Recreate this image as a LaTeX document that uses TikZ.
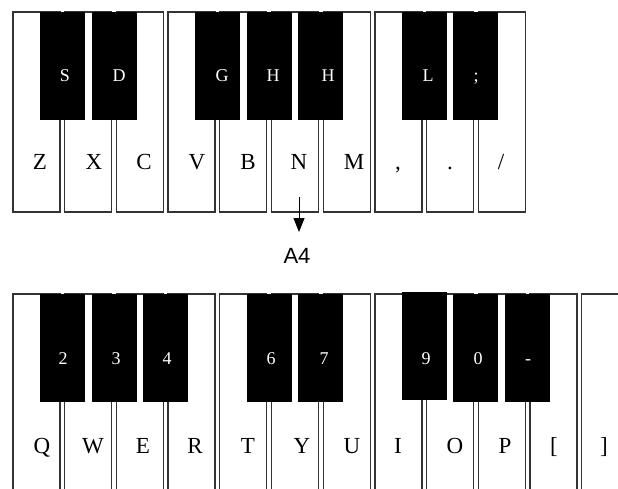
\documentclass[tikz,border=0pt]{standalone}
\usepackage{fontspec}
\setmainfont{Liberation Serif}
\newfontfamily\arialfont{Liberation Sans}
\usetikzlibrary{arrows.meta}
\definecolor{keyline}{HTML}{333333}
\begin{document}
\begin{tikzpicture}[x=1pt,y=-1pt,
  whitekey/.style={draw=keyline, line width=1.3pt, fill=white, minimum width=47pt,
    minimum height=#1, anchor=north west, inner sep=0pt, outer sep=0pt},
  blackkey/.style={fill=black, minimum width=45pt, minimum height=108pt,
    anchor=north, inner sep=0pt, outer sep=0pt},
  wlabel/.style={font=\fontsize{23}{23}\selectfont, anchor=base, inner sep=0pt},
  blabel/.style={font=\fontsize{18}{18}\selectfont, text=white, anchor=base, inner sep=0pt},
  pointer/.style={draw=black, line width=1pt, -{Triangle[length=14pt,width=11pt]}},
  notelabel/.style={font=\arialfont\fontsize{22}{22}\selectfont, anchor=base, inner sep=0pt}
]
\useasboundingbox (0,0) rectangle (618,489);
\clip (0,0) rectangle (618,489);
% top row white keys
\foreach \i in {0,...,9}
  \node[whitekey=200pt] (wt\i) at ({13+51.7*\i},12) {};
% bottom row white keys
\foreach \i in {0,...,11}
  \node[whitekey=220pt] (wb\i) at ({13+51.7*\i},294) {};
% top row black keys
\foreach \i/\n in {0/S,1/D,3/G,4/Ha,5/Hb,7/L,8/semi}
  \node[blackkey] (bt\n) at ({13+51.7*\i+49.35},12) {};
% bottom row black keys
\foreach \i/\n in {0/two,1/three,2/four,4/six,5/seven,8/zero,9/minus}
  \node[blackkey] (bb\n) at ({13+51.7*\i+49.35},294) {};
\node[blackkey] (bbnine) at ({13+51.7*7+49.35},292) {};
% top row black labels
\node[blabel] (lS) at (65,82) {S};
\node[blabel] (lD) at (119,82) {D};
\node[blabel] (lG) at (222,82) {G};
\node[blabel] (lHa) at (273,82) {H};
\node[blabel] (lHb) at (328,82) {H};
\node[blabel] (lL) at (428,82) {L};
\node[blabel] (lsemi) at (476,82) {;};
% top row white labels
\node[wlabel] (lZ) at (40,170) {Z};
\node[wlabel] (lX) at (94,170) {X};
\node[wlabel] (lC) at (144,170) {C};
\node[wlabel] (lV) at (197,170) {V};
\node[wlabel] (lB) at (248,170) {B};
\node[wlabel] (lN) at (299,170) {N};
\node[wlabel] (lM) at (354,170) {M};
\node[wlabel] (lcomma) at (398,170) {,};
\node[wlabel] (ldot) at (450,170) {.};
\node[wlabel] (lslash) at (501,170) {/};
% bottom row black labels
\node[blabel] (l2) at (63,364) {2};
\node[blabel] (l3) at (116,364) {3};
\node[blabel] (l4) at (167,364) {4};
\node[blabel] (l6) at (271,364) {6};
\node[blabel] (l7) at (324,364) {7};
\node[blabel] (l9) at (426,364) {9};
\node[blabel] (l0) at (478,364) {0};
\node[blabel] (lminus) at (528,364) {-};
% bottom row white labels
\node[wlabel] (lQ) at (42,453) {Q};
\node[wlabel] (lW) at (93,453) {W};
\node[wlabel] (lE) at (143,453) {E};
\node[wlabel] (lR) at (195,453) {R};
\node[wlabel] (lT) at (248,453) {T};
\node[wlabel] (lY) at (302,453) {Y};
\node[wlabel] (lU) at (352,453) {U};
\node[wlabel] (lI) at (398,453) {I};
\node[wlabel] (lO) at (455,453) {O};
\node[wlabel] (lP) at (505,453) {P};
\node[wlabel] (llbr) at (554,453) {[};
\node[wlabel] (lrbr) at (604,453) {]};
% pointer to A4
\node[notelabel] (A4) at (297,263) {A4};
\coordinate (arrowstart) at (299,197);
\coordinate (arrowend) at (299,232);
\draw[pointer] (arrowstart) -- (arrowend);
\end{tikzpicture}
\end{document}
